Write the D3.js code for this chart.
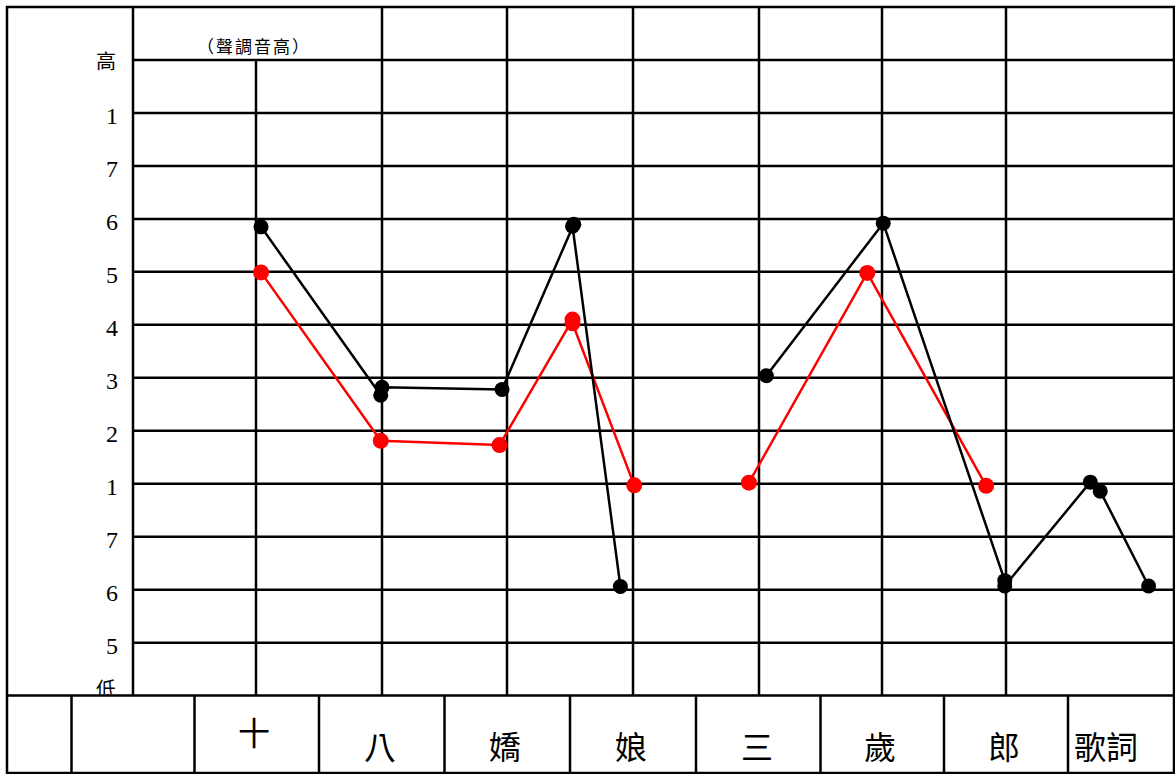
<!DOCTYPE html>
<html>
<head>
<meta charset="utf-8">
<script src="https://cdn.jsdelivr.net/npm/d3@7"></script>
<style>
  body { margin: 0; background: #fff; }
  svg { display: block; }
  .cjk { font-family: "Noto Sans CJK TC", "Noto Sans CJK SC", sans-serif; }
  .num { font-family: "Liberation Serif", "Times New Roman", serif; }
</style>
</head>
<body>
<div id="chart"></div>
<script>
document.addEventListener("DOMContentLoaded", function() {

  // lyrics (one syllable per grid column) and pitch levels, low -> high
  const syllables = ["十", "八", "嬌", "娘", "三", "歲", "郎"];
  const pitchLabels = ["低", "5", "6", "7", "1", "2", "3", "4", "5", "6", "7", "1", "高"];

  // black line: x in syllable units, y in pitch levels (null = break)
  const blackX = [0.04, 0.99, 1.00, 1.96, 2.53, 2.52, 2.90, null, 4.06, 5.01, 5.99, 5.99, 6.68, 6.76, 7.15];
  const blackY = [8.85, 5.67, 5.82, 5.78, 8.90, 8.86, 2.06, null, 6.04, 8.92, 2.17, 2.07, 4.03, 3.86, 2.07];

  // red line
  const redX = [0.04, 0.99, 1.94, 2.52, 2.52, 3.01, null, 3.92, 4.88, 5.84];
  const redY = [7.99, 4.81, 4.73, 7.10, 7.03, 3.97, null, 4.02, 7.98, 3.96];

  const width = 1175;
  const height = 774;
  const left = 7, top = 7, right = 1174, bottom = 773;

  // columns of the hand-drawn grid are not quite even
  const x = d3.scaleLinear()
              .domain([-1, 0, 1, 2, 3, 4, 5, 6])
              .range([133, 256, 382, 507, 633, 759, 882, 1006]);
  const y = d3.scaleLinear().domain([0, 12]).range([695.6, 60]);

  const svg = d3.select("#chart")
                .append("svg")
                .attr("width", width)
                .attr("height", height);

  const gridW = 2.5;

  // pitch labels on the left, clipped at the lyric row
  svg.append("clipPath")
     .attr("id", "clipLabels")
     .append("rect")
     .attr("x", 0).attr("y", 0)
     .attr("width", x(-1)).attr("height", y(0) - 1);

  svg.append("g")
     .attr("clip-path", "url(#clipLabels)")
     .selectAll("text")
     .data(pitchLabels)
     .enter().append("text")
     .attr("class", (d, i) => (i === 0 || i === 12) ? "cjk" : "num")
     .attr("x", (d, i) => (i === 0 || i === 12) ? 106 : 118)
     .attr("y", (d, i) => y(i) + (i === 0 ? -7 : (i === 12 ? 0 : 3)))
     .attr("dominant-baseline", "central")
     .attr("text-anchor", (d, i) => (i === 0 || i === 12) ? "middle" : "end")
     .style("font-size", (d, i) => (i === 0 || i === 12) ? "20px" : "24px")
     .text(d => d);

  // horizontal grid lines
  svg.append("g")
     .selectAll("line")
     .data(d3.range(1, 13))
     .enter().append("line")
     .attr("x1", x(-1)).attr("x2", right)
     .attr("y1", d => y(d)).attr("y2", d => y(d))
     .attr("stroke", "#000").attr("stroke-width", gridW);

  // top of lyric row spans the full width
  svg.append("line")
     .attr("x1", left).attr("x2", right)
     .attr("y1", y(0)).attr("y2", y(0))
     .attr("stroke", "#000").attr("stroke-width", gridW);

  // vertical grid lines (column 0 starts below the header row)
  svg.append("g")
     .selectAll("line")
     .data(d3.range(-1, 7))
     .enter().append("line")
     .attr("x1", d => x(d)).attr("x2", d => x(d))
     .attr("y1", d => d === 0 ? y(12) : top)
     .attr("y2", y(0))
     .attr("stroke", "#000").attr("stroke-width", gridW);

  // lyric row cell borders
  svg.append("g")
     .selectAll("line")
     .data(d3.range(-1, 8))
     .enter().append("line")
     .attr("x1", d => x(d - 0.5)).attr("x2", d => x(d - 0.5))
     .attr("y1", y(0)).attr("y2", bottom)
     .attr("stroke", "#000").attr("stroke-width", gridW);

  // outer frame
  svg.append("rect")
     .attr("x", left).attr("y", top)
     .attr("width", right - left).attr("height", bottom - top)
     .attr("fill", "none")
     .attr("stroke", "#000").attr("stroke-width", gridW);

  // header text
  svg.append("text")
     .attr("class", "cjk")
     .attr("x", 254).attr("y", 45)
     .attr("text-anchor", "middle")
     .attr("dominant-baseline", "central")
     .style("font-size", "17px")
     .style("letter-spacing", "2px")
     .text("（聲調音高）");

  // lyrics
  svg.append("g")
     .selectAll("text")
     .data(syllables)
     .enter().append("text")
     .attr("class", "cjk")
     .attr("x", (d, i) => x(i) - 2)
     .attr("y", (d, i) => i === 0 ? 731 : 745)
     .attr("text-anchor", "middle")
     .attr("dominant-baseline", "central")
     .style("font-size", "32px")
     .text(d => d);

  svg.append("text")
     .attr("class", "cjk")
     .attr("x", x(6.5) + 6).attr("y", 745)
     .attr("dominant-baseline", "central")
     .style("font-size", "32px")
     .text("歌詞");

  // pitch contours
  function drawSeries(xs, ys, color, r) {
    const pts = xs.map((d, i) => ({ x: d, y: ys[i] }));
    const line = d3.line()
                   .defined(d => d.x !== null && d.y !== null)
                   .x(d => x(d.x))
                   .y(d => y(d.y));

    svg.append("path")
       .datum(pts)
       .attr("d", line)
       .attr("fill", "none")
       .attr("stroke", color)
       .attr("stroke-width", 2.5)
       .attr("stroke-linejoin", "round");

    svg.append("g")
       .selectAll("circle")
       .data(pts.filter(d => d.x !== null))
       .enter().append("circle")
       .attr("cx", d => x(d.x))
       .attr("cy", d => y(d.y))
       .attr("r", r)
       .attr("fill", color);
  }

  drawSeries(redX, redY, "#ff0000", 8);
  drawSeries(blackX, blackY, "#000000", 7.5);
});
</script>
</body>
</html>
